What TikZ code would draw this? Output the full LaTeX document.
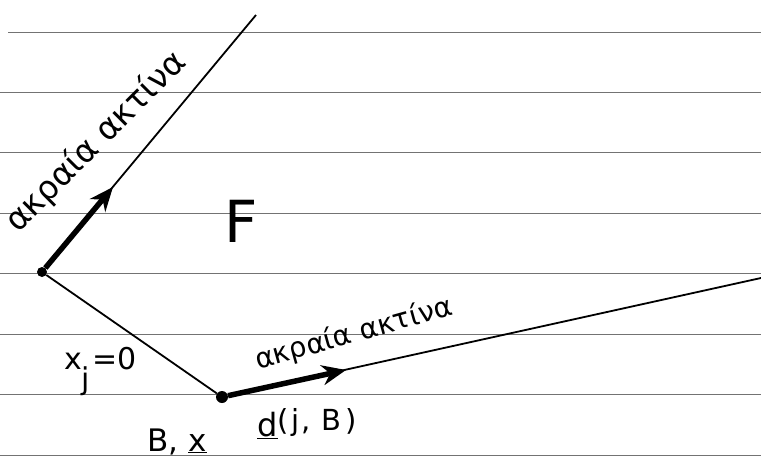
\documentclass[tikz,border=0pt]{standalone}
\usepackage{fontspec}
\setmainfont{DejaVu Sans}
\usetikzlibrary{arrows.meta}
\begin{document}
\begin{tikzpicture}[x=1pt,y=-1pt,
  rule/.style={draw=black!55, line width=1pt},
  edge/.style={draw=black, line width=1.8pt},
  dirarrow/.style={draw=black, line width=5.5pt, -{Stealth[length=24pt,width=20pt]}},
  vdot/.style={circle, fill=black, inner sep=0pt, minimum size=#1},
  hand/.style={inner sep=0pt, font=\fontsize{#1}{#1}\selectfont},
]
\useasboundingbox (0,0) rectangle (761,469);
% ruled paper
\draw[rule] (8,32) -- (761,32);
\foreach \y in {92,152,213,273,334,394,455} \draw[rule] (0,\y) -- (761,\y);
% vertices and ray ends
\node[vdot=10pt] (A) at (42,272) {};
\node[vdot=12pt] (B) at (222,397) {};
\coordinate (E1) at (256,15);
\coordinate (E2) at (761,278);
\coordinate (T1) at (113,187);
\coordinate (T2) at (346,370);
% edges
\draw[edge] (A) -- (E1);
\draw[edge] (A) -- (B);
\draw[edge] (B) -- (E2);
\draw[dirarrow] (A) -- (T1);
\draw[dirarrow] (B) -- (T2);
% labels
\node[hand=33, rotate=45] (lab1) at (96,142) {ακραία ακτίνα};
\node[hand=28, rotate=15.5] (lab2) at (354,334) {ακραία ακτίνα};
\node[hand=58] (F) at (241,221) {F};
\node[hand=30, anchor=base west] (xj) at (64,369) {x\raisebox{-20pt}{j}\hspace{2pt}=0};
\node[hand=31, anchor=base west] (Bx) at (147,451) {B,\hspace{10pt}\underline{x}};
\node[hand=32, anchor=base west] (dj) at (257,436) {\underline{d}\raisebox{6pt}{\fontsize{29}{29}\selectfont(\hspace{3pt}j\hspace{2pt},\hspace{10pt}B\hspace{5pt})}};
\end{tikzpicture}
\end{document}
